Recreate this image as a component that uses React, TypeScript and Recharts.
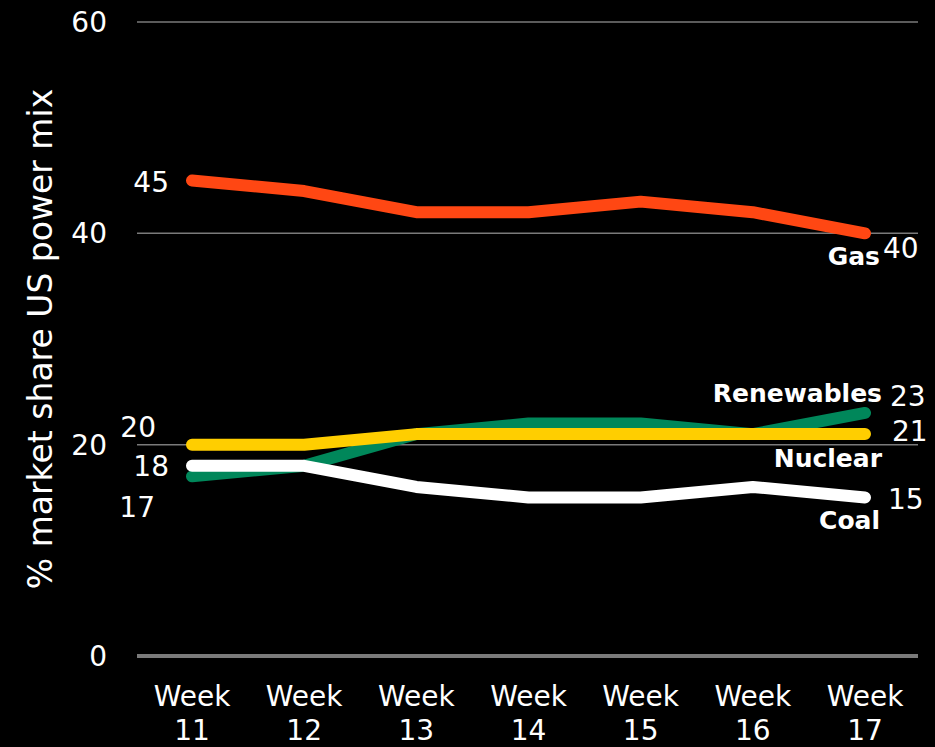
import React from 'react';
import {
  LineChart,
  Line,
  XAxis,
  YAxis,
  CartesianGrid,
  ReferenceLine,
  LabelList,
  Label,
} from 'recharts';

const weeks = ['Week 11', 'Week 12', 'Week 13', 'Week 14', 'Week 15', 'Week 16', 'Week 17'];
const gas = [45, 44, 42, 42, 43, 42, 40];
const renewables = [17, 18, 21, 22, 22, 21, 23];
const nuclear = [20, 20, 21, 21, 21, 21, 21];
const coal = [18, 18, 16, 15, 15, 16, 15];
const yTicks = [0, 20, 40, 60];

const data = weeks.map((week, i) => ({
  week,
  gas: gas[i],
  renewables: renewables[i],
  nuclear: nuclear[i],
  coal: coal[i],
}));

// draw order matters: later series sit on top
const series = [
  {
    key: 'renewables',
    name: 'Renewables',
    color: '#00875A',
    start: { dx: -37, dy: 31 },
    end: { dx: 25, dy: -16 },
    label: { dx: 17, dy: -19 },
  },
  {
    key: 'nuclear',
    name: 'Nuclear',
    color: '#FFCE00',
    start: { dx: -36, dy: -17 },
    end: { dx: 27, dy: -3 },
    label: { dx: 17, dy: 24 },
  },
  {
    key: 'coal',
    name: 'Coal',
    color: '#FFFFFF',
    start: { dx: -23, dy: 1 },
    end: { dx: 23, dy: 2 },
    label: { dx: 15, dy: 23 },
  },
  {
    key: 'gas',
    name: 'Gas',
    color: '#FF4713',
    start: { dx: -23, dy: 2 },
    end: { dx: 18, dy: 15 },
    label: { dx: 15, dy: 23 },
  },
];

type Cfg = (typeof series)[number];

const makeEndLabels = (cfg: Cfg) => (props: any) => {
  const { x, y, value, index } = props;
  if (index === 0) {
    return (
      <text
        x={x + cfg.start.dx}
        y={y + cfg.start.dy}
        textAnchor="end"
        dominantBaseline="central"
        fill="#fff"
        fontSize={28}
      >
        {value}
      </text>
    );
  }
  if (index === weeks.length - 1) {
    return (
      <g>
        <text
          x={x + cfg.label.dx}
          y={y + cfg.label.dy}
          textAnchor="end"
          dominantBaseline="central"
          fill="#fff"
          fontSize={25}
          fontWeight="bold"
        >
          {cfg.name}
        </text>
        <text
          x={x + cfg.end.dx}
          y={y + cfg.end.dy}
          textAnchor="start"
          dominantBaseline="central"
          fill="#fff"
          fontSize={28}
        >
          {value}
        </text>
      </g>
    );
  }
  return null;
};

const WeekTick = (props: any) => {
  const { x, y, payload } = props;
  const [word, num] = String(payload.value).split(' ');
  return (
    <g transform={`translate(${x},${y})`}>
      <text textAnchor="middle" fill="#fff" fontSize={28}>
        <tspan x={0} y={42}>{word}</tspan>
        <tspan x={0} y={76}>{num}</tspan>
      </text>
    </g>
  );
};

const YTitle = (props: any) => {
  const { viewBox } = props;
  const cx = viewBox.x + 40;
  const cy = viewBox.y + viewBox.height / 2;
  return (
    <text
      x={cx}
      y={cy}
      transform={`rotate(-90 ${cx} ${cy})`}
      textAnchor="middle"
      dominantBaseline="central"
      fill="#fff"
      fontSize={33}
    >
      % market share US power mix
    </text>
  );
};

export default function App() {
  return (
    <div
      style={{
        position: 'absolute',
        left: 0,
        top: 0,
        width: 935,
        height: 747,
        background: '#000',
        fontFamily: '"DejaVu Sans", sans-serif',
        overflow: 'hidden',
      }}
    >
      <LineChart
        width={935}
        height={747}
        data={data}
        margin={{ top: 22, right: 17, bottom: 0, left: 0 }}
      >
        <CartesianGrid horizontal vertical={false} stroke="#7a7a7a" strokeWidth={1.5} />
        <XAxis
          dataKey="week"
          height={91}
          axisLine={false}
          tickLine={false}
          padding={{ left: 55, right: 53 }}
          interval={0}
          tick={<WeekTick />}
        />
        <YAxis
          width={137}
          domain={[0, 60]}
          ticks={yTicks}
          axisLine={false}
          tickLine={false}
          tickMargin={24}
          tick={{ fill: '#fff', fontSize: 28 }}
        >
          <Label content={<YTitle />} />
        </YAxis>
        <ReferenceLine y={0} stroke="#7a7a7a" strokeWidth={4} />
        {series.map((s) => (
          <Line
            key={s.key}
            dataKey={s.key}
            type="linear"
            stroke={s.color}
            strokeWidth={12}
            strokeLinecap="round"
            strokeLinejoin="round"
            dot={false}
            activeDot={false}
            isAnimationActive={false}
          >
            <LabelList dataKey={s.key} content={makeEndLabels(s)} />
          </Line>
        ))}
      </LineChart>
    </div>
  );
}
